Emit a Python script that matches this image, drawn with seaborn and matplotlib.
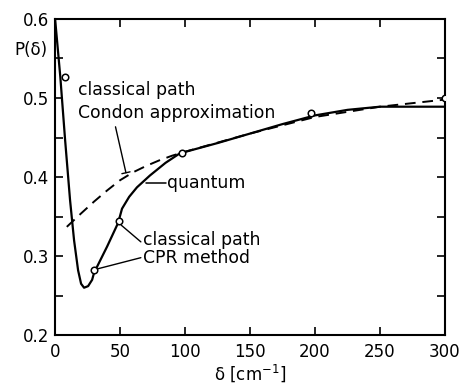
import matplotlib
matplotlib.use("Agg")
import matplotlib.pyplot as plt
import seaborn as sns
import pandas as pd
from matplotlib.ticker import MultipleLocator

sns.set_theme(style="ticks")
plt.rcParams['font.family'] = ['DejaVu Sans']
plt.rcParams['text.color'] = 'black'

# quantum curve
quantum_x = [0, 4, 7.7, 11.5, 14.6, 17.7, 20, 22.3, 25.4, 28.5, 30, 40, 48.5, 51.5, 57, 63, 73, 85, 96, 125, 150, 175, 200, 225, 250, 275, 300]
quantum_y = [0.600, 0.527, 0.447, 0.371, 0.320, 0.282, 0.265, 0.260, 0.262, 0.270, 0.279, 0.312, 0.342, 0.360, 0.375, 0.387, 0.402, 0.418, 0.430, 0.443, 0.455, 0.467, 0.478, 0.485, 0.489, 0.489, 0.489]

# classical path, Condon approximation (dashed)
condon_x = [9, 20, 30, 40, 50, 60, 70, 80, 90, 100, 150, 200, 250, 300]
condon_y = [0.337, 0.354, 0.369, 0.383, 0.396, 0.406, 0.414, 0.421, 0.427, 0.432, 0.455, 0.476, 0.489, 0.498]

# classical path, CPR method (circles)
cpr_x = [7.5, 30, 49, 98, 197, 300]
cpr_y = [0.527, 0.283, 0.344, 0.430, 0.481, 0.500]

x_ticks = [0, 50, 100, 150, 200, 250, 300]
y_ticks = [0.2, 0.3, 0.4, 0.5, 0.6]

fig = plt.figure(figsize=(4.63, 3.87), dpi=100)
ax = fig.add_axes([0.119, 0.134, 0.842, 0.817])

qdf = pd.DataFrame({"x": quantum_x, "y": quantum_y})
cdf = pd.DataFrame({"x": condon_x, "y": condon_y})
pdf = pd.DataFrame({"x": cpr_x, "y": cpr_y})

sns.lineplot(data=qdf, x="x", y="y", ax=ax, color="black", lw=1.6, sort=True)
sns.lineplot(data=cdf, x="x", y="y", ax=ax, color="black", lw=1.4, sort=True)
ax.lines[-1].set_dashes([5.5, 3.5])
sns.scatterplot(data=pdf, x="x", y="y", ax=ax, marker="o", s=22,
                facecolor="white", edgecolor="black", linewidth=1.1, zorder=5)

ax.set_xlim(0, 300)
ax.set_ylim(0.2, 0.6)
ax.set_xticks(x_ticks)
ax.set_yticks(y_ticks)
ax.set_yticklabels([f"{v:.1f}" for v in y_ticks])
ax.yaxis.set_minor_locator(MultipleLocator(0.05))
ax.xaxis.set_minor_locator(MultipleLocator(50))
ax.tick_params(which="both", direction="in", top=True, right=True, labelsize=12, colors="black")
ax.tick_params(axis="x", which="major", pad=6)
ax.tick_params(axis="y", which="major", pad=4)
ax.tick_params(which="major", length=6, width=1.2)
ax.tick_params(which="minor", length=6, width=1.2)
for s in ax.spines.values():
    s.set_linewidth(1.5)
    s.set_color("black")

ax.set_xlabel("δ [cm$^{-1}$]", fontsize=12, labelpad=1, color="black")
ax.set_ylabel("")
fig.text(0.066, 0.871, "P(δ)", fontsize=12, ha="center", va="center", color="black")

# annotations
fs = 12.4
ax.text(17.5, 0.510, "classical path", fontsize=fs, ha="left", va="center")
ax.text(17.5, 0.481, "Condon approximation", fontsize=fs, ha="left", va="center")
ax.annotate("", xy=(55, 0.402), xytext=(46, 0.467),
            arrowprops=dict(arrowstyle="-[, widthB=0.25, lengthB=0.0", color="black", lw=1))
ax.text(86, 0.392, "quantum", fontsize=fs, ha="left", va="center")
ax.plot([70, 85], [0.392, 0.392], color="black", lw=1.1)
ax.text(67.5, 0.320, "classical path", fontsize=fs, ha="left", va="center")
ax.text(67.5, 0.297, "CPR method", fontsize=fs, ha="left", va="center")
ax.plot([51, 66], [0.339, 0.318], color="black", lw=1.0)
ax.plot([33, 66], [0.284, 0.298], color="black", lw=1.0)

fig.savefig("out.png", dpi=100)
